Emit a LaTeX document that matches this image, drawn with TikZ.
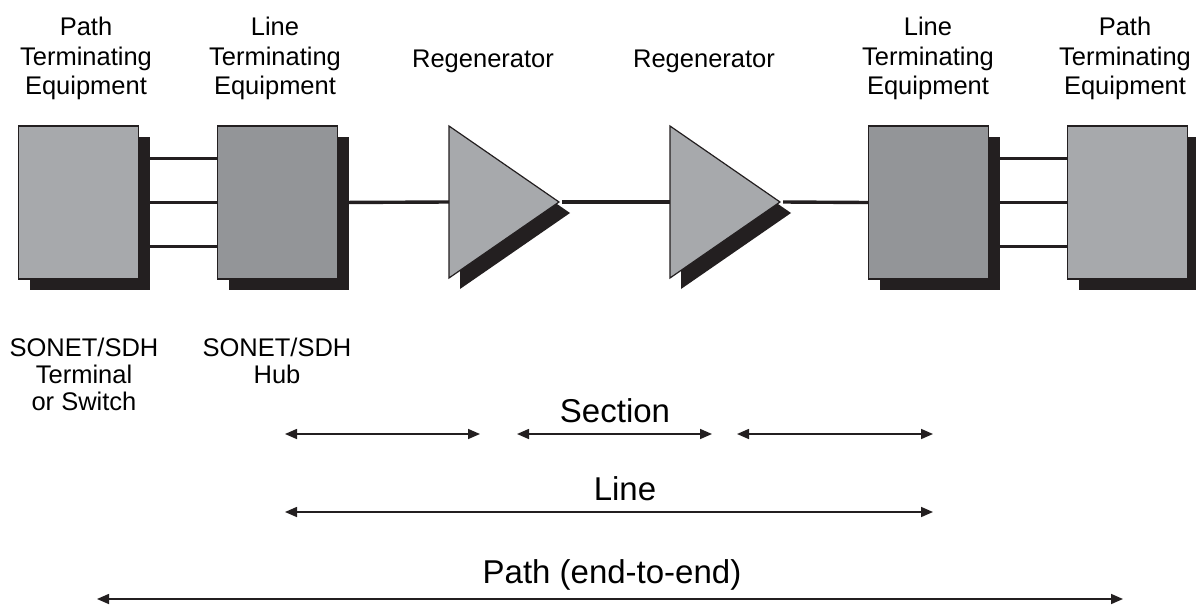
\documentclass[tikz,border=0pt]{standalone}
\usepackage{fontspec}
\setmainfont{Liberation Sans}
\usepackage{tikz}
\usetikzlibrary{arrows.meta,shadows}
\definecolor{cLight}{HTML}{A7A9AC}
\definecolor{cDark}{HTML}{939598}
\definecolor{cInk}{HTML}{231F20}
\tikzset{
  eqbox/.style={draw=cInk, line width=1.4pt, minimum width=120pt, minimum height=153pt, inner sep=0pt,
    drop shadow={shadow xshift=11pt, shadow yshift=-11pt, fill=cInk, opacity=1}},
  pbox/.style={eqbox, fill=cLight},
  lbox/.style={eqbox, fill=cDark},
  regtri/.style={draw=cInk, line width=1.2pt, fill=cLight, line join=miter},
  wire/.style={cInk, line width=3.4pt},
  span/.style={cInk, line width=1.6pt, arrows={Triangle[length=12pt,width=10pt]-Triangle[length=12pt,width=10pt]}},
  lbl/.style={font=\fontsize{25.5}{29.5}\selectfont, align=center, inner sep=0pt},
  lblb/.style={font=\fontsize{25.5}{27}\selectfont, align=center, inner sep=0pt},
  big/.style={font=\fontsize{33}{38}\selectfont, inner sep=0pt},
}
% regenerator: name, x of base
\newcommand{\regen}[2]{%
  \fill[cInk] (#2+11,137) -- (#2+121,213) -- (#2+11,289) -- cycle;
  \draw[regtri] (#2,126) -- (#2+110,202) -- (#2,278) -- cycle;
  \coordinate (#1-in) at (#2,202);
  \coordinate (#1-out) at (#2+110,202);}

\begin{document}
\begin{tikzpicture}[x=1pt,y=-1pt]
\useasboundingbox (0,0) rectangle (1196,605);
% equipment
\node[pbox] (pte1) at (78.5,202.5) {};
\node[lbox] (lte1) at (277.5,202.5) {};
\node[lbox] (lte2) at (928.5,202.5) {};
\node[pbox] (pte2) at (1127.5,202.5) {};
\regen{rg1}{449}
\regen{rg2}{670}
% wires
\foreach \dy in {-44,0,44} {
  \draw[wire] ([yshift=\dy pt]pte1.east) -- ([yshift=\dy pt]lte1.west);
  \draw[wire] ([yshift=\dy pt]lte2.east) -- ([yshift=\dy pt]pte2.west);
}
\draw[wire] (lte1.east) -- (rg1-in);
\draw[wire] ([xshift=3pt]rg1-out) -- (rg2-in);
\draw[wire] ([xshift=3pt]rg2-out) -- (lte2.west);
% titles
\node[lbl, anchor=north] (tpte1) at (86,17) {Path\\Terminating\\Equipment};
\node[lbl, anchor=north] (tlte1) at (275,17) {Line\\Terminating\\Equipment};
\node[lbl, anchor=base] (trg1) at (483,67) {Regenerator};
\node[lbl, anchor=base] (trg2) at (704,67) {Regenerator};
\node[lbl, anchor=north] (tlte2) at (928,17) {Line\\Terminating\\Equipment};
\node[lbl, anchor=north] (tpte2) at (1125,17) {Path\\Terminating\\Equipment};
\node[lblb, anchor=north] (dpte1) at (84,337.5) {SONET/SDH\\Terminal\\or Switch};
\node[lblb, anchor=north] (dlte1) at (277,337.5) {SONET/SDH\\Hub};
% spans
\coordinate (s1a) at (285,434); \coordinate (s1b) at (480,434);
\coordinate (s2a) at (517,434); \coordinate (s2b) at (712,434);
\coordinate (s3a) at (737,434); \coordinate (s3b) at (933,434);
\coordinate (la) at (285,512); \coordinate (lb) at (933,512);
\coordinate (pa) at (97,599); \coordinate (pb) at (1123,599);
\draw[span] (s1a) -- (s1b);
\draw[span] (s2a) -- (s2b);
\draw[span] (s3a) -- (s3b);
\draw[span] (la) -- (lb);
\draw[span] (pa) -- (pb);
\node[big, anchor=base] (tsec) at (615,422) {Section};
\node[big, anchor=base] (tline) at (625,500) {Line};
\node[big, anchor=base] (tpath) at (612,583) {Path (end-to-end)};
\end{tikzpicture}
\end{document}
